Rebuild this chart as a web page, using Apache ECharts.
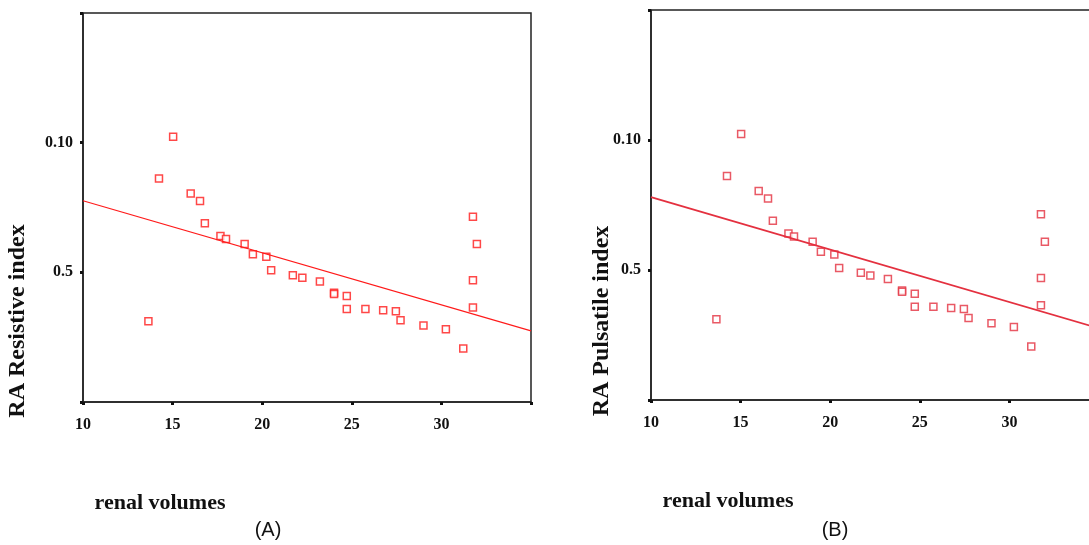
<!DOCTYPE html>
<html>
<head>
<meta charset="utf-8">
<script src="https://cdn.jsdelivr.net/npm/echarts@6/dist/echarts.min.js"></script>
<style>
html,body{margin:0;padding:0;background:#fff;}
#chart{width:1089px;height:545px;}
</style>
</head>
<body>
<div id="chart"></div>
<script>
// renal volume (x) and index value (y) for each patient; panel (B) shows the same points
const renalVolumes = [13.65, 14.24, 15.03, 16.01, 16.53, 16.80, 17.67, 17.98, 19.02, 19.48,
  20.23, 20.50, 21.71, 22.24, 23.22, 24.01, 24.01, 24.72, 24.72, 25.76,
  26.75, 27.46, 27.72, 29.00, 30.25, 31.22, 31.76, 31.98, 31.76, 31.76];
const resistiveIndex = [0.0311, 0.0862, 0.1023, 0.0804, 0.0775, 0.0689, 0.0640, 0.0629, 0.0609, 0.0570,
  0.0560, 0.0508, 0.0489, 0.0479, 0.0465, 0.0421, 0.0416, 0.0409, 0.0359, 0.0359,
  0.0354, 0.0350, 0.0315, 0.0295, 0.0281, 0.0206, 0.0714, 0.0609, 0.0469, 0.0364];
const pulsatileIndex = [0.0311, 0.0862, 0.1023, 0.0804, 0.0775, 0.0689, 0.0640, 0.0629, 0.0609, 0.0570,
  0.0560, 0.0508, 0.0489, 0.0479, 0.0465, 0.0421, 0.0416, 0.0409, 0.0359, 0.0359,
  0.0354, 0.0350, 0.0315, 0.0295, 0.0281, 0.0206, 0.0714, 0.0609, 0.0469, 0.0364];
// fitted regression lines (end points at x = 10 and x = 35)
const fitX = [10, 35];
const fitResistive = [0.0776, 0.0274];
const fitPulsatile = [0.0780, 0.0276];
// tick labels as printed in the figure
const xTickValues = [10, 15, 20, 25, 30];
const xTickLabels = ['10', '15', '20', '25', '30'];
const yTickValues = [0.05, 0.10];
const yTickLabels = ['0.5', '0.10'];
const yTitles = ['RA Resistive index', 'RA Pulsatile index'];
const xTitle = 'renal volumes';
const panelTags = ['(A)', '(B)'];

function pairs(xs, ys) { return xs.map((x, i) => [x, ys[i]]); }
function xFmt(v) {
  for (let i = 0; i < xTickValues.length; i++) if (Math.abs(v - xTickValues[i]) < 1e-6) return xTickLabels[i];
  return '';
}
function yFmt(v) {
  for (let i = 0; i < yTickValues.length; i++) if (Math.abs(v - yTickValues[i]) < 1e-6) return yTickLabels[i];
  return '';
}

const serif = 'Liberation Serif';
const axisCommon = {
  axisLine: { show: true, lineStyle: { color: '#222', width: 1.5 } },
  axisTick: { show: true, length: 3, lineStyle: { color: '#111', width: 3 } },
  splitLine: { show: false },
  axisLabel: { color: '#111', fontFamily: serif, fontWeight: 'bold', fontSize: 16 }
};

function xAxis(gi) {
  return Object.assign({}, axisCommon, {
    type: 'value', gridIndex: gi, min: 10, max: 35, interval: 5,
    axisLabel: Object.assign({}, axisCommon.axisLabel, { formatter: xFmt, margin: 15, showMaxLabel: true })
  });
}
function yAxis(gi) {
  return Object.assign({}, axisCommon, {
    type: 'value', gridIndex: gi, min: 0, max: 0.15, interval: 0.05,
    axisLabel: Object.assign({}, axisCommon.axisLabel, { formatter: yFmt, margin: 10 })
  });
}

const colA = '#ff1a1a';
const colB = '#e4303f';

const option = {
  animation: false,
  backgroundColor: '#fff',
  grid: [
    { left: 83, top: 13, width: 448, height: 389, show: true, borderColor: '#222', borderWidth: 1.5,
      backgroundColor: 'transparent', containLabel: false, outerBoundsMode: 'none' },
    { left: 651, top: 10, width: 448, height: 390, show: true, borderColor: '#222', borderWidth: 1.5,
      backgroundColor: 'transparent', containLabel: false, outerBoundsMode: 'none' }
  ],
  xAxis: [xAxis(0), xAxis(1)],
  yAxis: [yAxis(0), yAxis(1)],
  series: [
    { type: 'line', xAxisIndex: 0, yAxisIndex: 0, data: pairs(fitX, fitResistive), symbol: 'none',
      lineStyle: { color: colA, width: 1.2 } },
    { type: 'scatter', xAxisIndex: 0, yAxisIndex: 0, data: pairs(renalVolumes, resistiveIndex), symbol: 'rect', symbolSize: 7,
      itemStyle: { color: '#fff', borderColor: colA, borderWidth: 1.5 } },
    { type: 'line', xAxisIndex: 1, yAxisIndex: 1, data: pairs(fitX, fitPulsatile), symbol: 'none',
      lineStyle: { color: colB, width: 1.8 } },
    { type: 'scatter', xAxisIndex: 1, yAxisIndex: 1, data: pairs(renalVolumes, pulsatileIndex), symbol: 'rect', symbolSize: 7,
      itemStyle: { color: '#fff', borderColor: colB, borderWidth: 1.5 } }
  ],
  graphic: [
    { type: 'text', x: 18, y: 321, rotation: Math.PI / 2,
      style: { text: yTitles[0], font: 'bold 24px "Liberation Serif"', fill: '#111', textAlign: 'center', textVerticalAlign: 'middle' } },
    { type: 'text', x: 602, y: 321, rotation: Math.PI / 2,
      style: { text: yTitles[1], font: 'bold 24px "Liberation Serif"', fill: '#111', textAlign: 'center', textVerticalAlign: 'middle' } },
    { type: 'text', x: 160, y: 503,
      style: { text: xTitle, font: 'bold 22px "Liberation Serif"', fill: '#111', textAlign: 'center', textVerticalAlign: 'middle' } },
    { type: 'text', x: 728, y: 501,
      style: { text: xTitle, font: 'bold 22px "Liberation Serif"', fill: '#111', textAlign: 'center', textVerticalAlign: 'middle' } },
    { type: 'text', x: 268, y: 530,
      style: { text: panelTags[0], font: '20px "Liberation Sans"', fill: '#111', textAlign: 'center', textVerticalAlign: 'middle' } },
    { type: 'text', x: 835, y: 530,
      style: { text: panelTags[1], font: '20px "Liberation Sans"', fill: '#111', textAlign: 'center', textVerticalAlign: 'middle' } }
  ]
};

const chart = echarts.init(document.getElementById('chart'), null, { renderer: 'canvas' });
chart.setOption(option);
</script>
</body>
</html>
